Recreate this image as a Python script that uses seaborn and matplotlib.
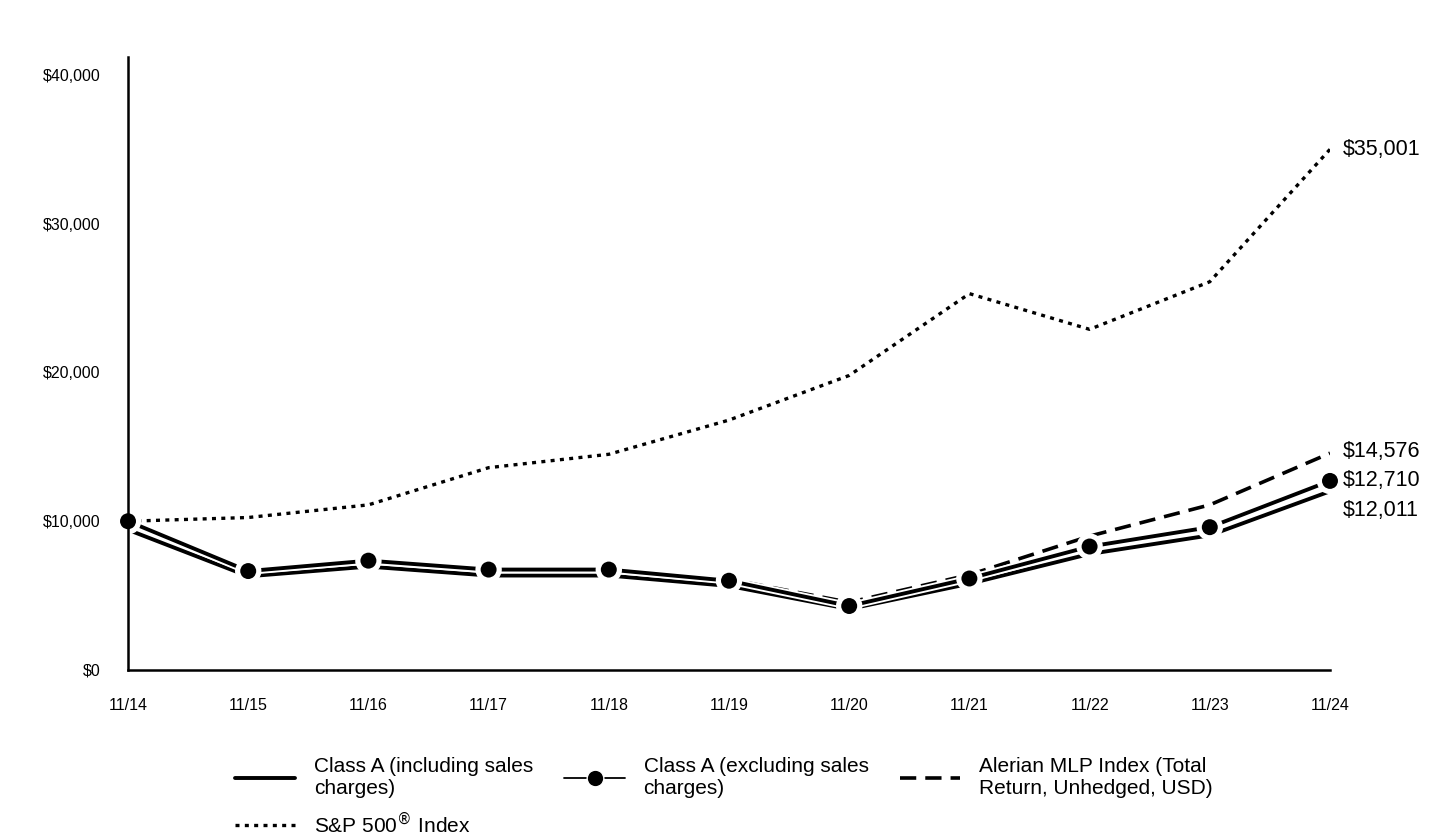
import pandas as pd
import seaborn as sns
import matplotlib.pyplot as plt
import matplotlib.patheffects as pe
from matplotlib.lines import Line2D

# growth of $10,000 values
years = ["11/14", "11/15", "11/16", "11/17", "11/18", "11/19", "11/20", "11/21", "11/22", "11/23", "11/24"]
class_a_incl = [9425, 6300, 6950, 6350, 6350, 5650, 4100, 5800, 7800, 9050, 12011]
class_a_excl = [10000, 6650, 7350, 6750, 6750, 6000, 4300, 6150, 8300, 9600, 12710]
alerian = [10000, 6500, 7100, 6600, 6800, 6100, 4550, 6400, 9000, 11100, 14576]
sp500 = [10000, 10250, 11100, 13600, 14500, 16800, 19800, 25300, 22900, 26100, 35001]

df = pd.DataFrame({"x": range(len(years)), "incl": class_a_incl, "excl": class_a_excl,
                   "alerian": alerian, "sp": sp500})

sns.set_style("white")
plt.rcParams["font.family"] = ["Liberation Sans", "DejaVu Sans"]
plt.rcParams["text.color"] = "black"
plt.rcParams["xtick.color"] = "black"
plt.rcParams["ytick.color"] = "black"

fig = plt.figure(figsize=(14.4, 8.4), dpi=100)
ax = fig.add_axes([0.0889, 0.2024, 0.8347, 0.7296])

outline = [pe.Stroke(linewidth=5.5, foreground="white"), pe.Normal()]
dots = (0, (1.2, 1.6))
dashes = (0, (4.5, 2.5))

sns.lineplot(data=df, x="x", y="sp", ax=ax, color="black", lw=2.4, linestyle=dots)
sns.lineplot(data=df, x="x", y="alerian", ax=ax, color="black", lw=2.6,
             linestyle=dashes, path_effects=outline)
sns.lineplot(data=df, x="x", y="incl", ax=ax, color="black", lw=2.8, path_effects=outline)
sns.lineplot(data=df, x="x", y="excl", ax=ax, color="black", lw=2.8, marker="o",
             markersize=13.5, markeredgecolor="white", markeredgewidth=2,
             path_effects=outline, clip_on=False)

ax.set_xlim(0, len(years) - 1)
ax.set_ylim(0, 41200)
ax.set_xticks(range(len(years)))
ax.set_xticklabels(years)
ax.set_yticks([0, 10000, 20000, 30000, 40000])
ax.set_yticklabels(["$0", "$10,000", "$20,000", "$30,000", "$40,000"])
ax.tick_params(axis="both", labelsize=11.5, direction="out", length=7, width=1.5,
               color="black", labelcolor="black")
ax.tick_params(axis="x", pad=13)
ax.tick_params(axis="y", pad=13)
ax.set_xlabel("")
ax.set_ylabel("")
for s in ["top", "right"]:
    ax.spines[s].set_visible(False)
for s in ["left", "bottom"]:
    ax.spines[s].set_linewidth(1.8)
    ax.spines[s].set_color("black")

# end-of-period value labels
last = len(years) - 1
ax.annotate(f"${sp500[-1]:,}", (last, sp500[-1]), xytext=(9, 0), textcoords="offset points",
            va="center", fontsize=15.5)
ax.annotate(f"${alerian[-1]:,}", (last, alerian[-1]), xytext=(9, 1), textcoords="offset points",
            va="center", fontsize=15.5)
ax.annotate(f"${class_a_excl[-1]:,}", (last, class_a_excl[-1]), xytext=(9, 0), textcoords="offset points",
            va="center", fontsize=15.5)
ax.annotate(f"${class_a_incl[-1]:,}", (last, class_a_incl[-1]), xytext=(9, -14), textcoords="offset points",
            va="center", fontsize=15.5)

# legend, filled column by column: incl + S&P | excl | Alerian
handles = [
    Line2D([], [], color="black", lw=2.8),
    Line2D([], [], color="black", lw=2.4, linestyle=dots),
    Line2D([], [], color="black", lw=1.3, marker="o", markersize=12, markeredgecolor="white"),
    Line2D([], [], color="black", lw=2.6, linestyle=dashes),
]
labels = [
    "Class A (including sales\ncharges)",
    "S&P 500$^{®}$ Index",
    "Class A (excluding sales\ncharges)",
    "Alerian MLP Index (Total\nReturn, Unhedged, USD)",
]
fig.legend(handles, labels, ncol=3, loc="upper left", bbox_to_anchor=(0.163, 0.099),
           frameon=False, fontsize=15, handlelength=2.9, handletextpad=0.9,
           columnspacing=1.5, labelspacing=0.6, borderpad=0, borderaxespad=0)

fig.savefig("out.png", dpi=100)
